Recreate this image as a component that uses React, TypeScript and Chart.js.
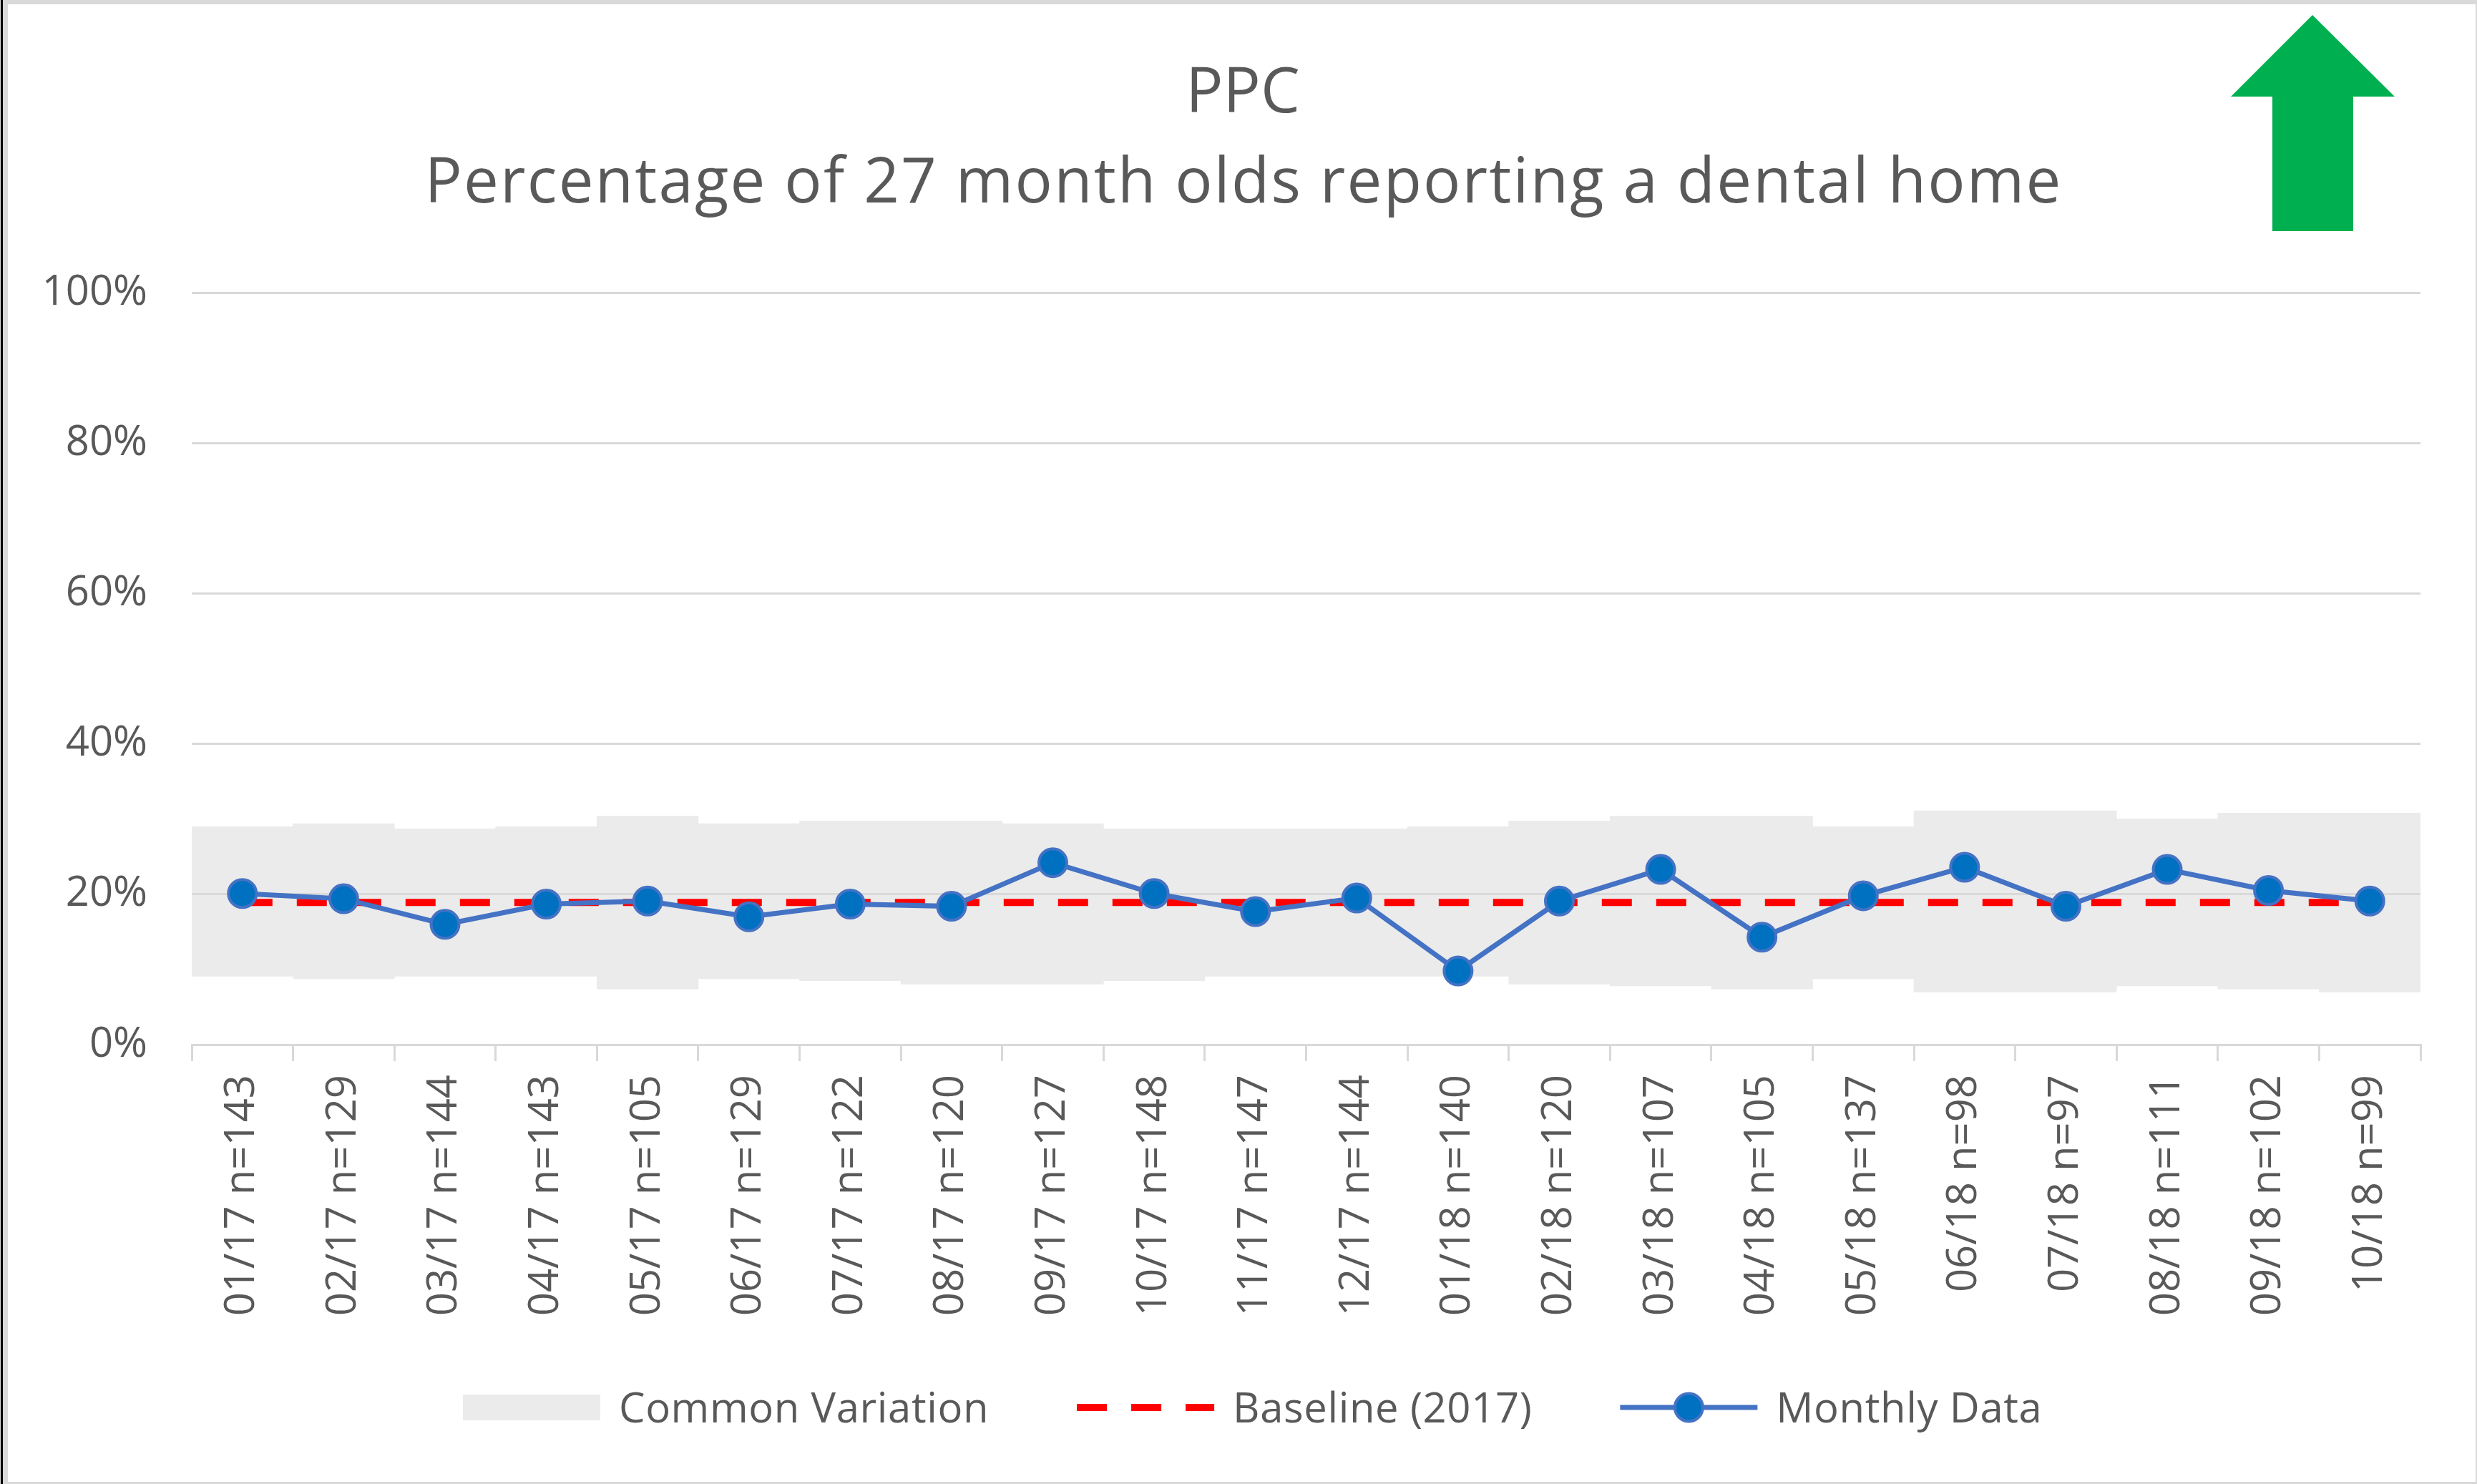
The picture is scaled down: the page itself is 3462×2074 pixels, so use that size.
import React, { useEffect, useRef } from "react";
import { Chart, registerables } from "chart.js";

Chart.register(...registerables);

// ---------------- data ----------------
const categories = [
  "01/17 n=143", "02/17 n=129", "03/17 n=144", "04/17 n=143", "05/17 n=105",
  "06/17 n=129", "07/17 n=122", "08/17 n=120", "09/17 n=127", "10/17 n=148",
  "11/17 n=147", "12/17 n=144", "01/18 n=140", "02/18 n=120", "03/18 n=107",
  "04/18 n=105", "05/18 n=137", "06/18 n=98", "07/18 n=97", "08/18 n=111",
  "09/18 n=102", "10/18 n=99",
];

const monthlyData = [
  20.1, 19.4, 16.0, 18.7, 19.1, 17.0, 18.7, 18.4, 24.2, 20.1, 17.7,
  19.5, 9.8, 19.1, 23.3, 14.3, 19.8, 23.6, 18.4, 23.3, 20.5, 19.1,
];

const baselineData = [
  18.9, 18.9, 18.9, 18.9, 18.9, 18.9, 18.9, 18.9, 18.9, 18.9, 18.9,
  18.9, 18.9, 18.9, 18.9, 18.9, 18.9, 18.9, 18.9, 18.9, 18.9, 18.9,
];

const variationLow = [
  9.1, 8.75, 9.1, 9.1, 7.4, 8.75, 8.5, 8.05, 8.05, 8.5, 9.1,
  9.1, 9.1, 8.05, 7.8, 7.4, 8.75, 7.0, 7.0, 7.8, 7.4, 7.0,
];

const variationHigh = [
  29.0, 29.4, 28.7, 29.0, 30.4, 29.4, 29.75, 29.75, 29.4, 28.7, 28.7,
  28.7, 29.0, 29.75, 30.4, 30.4, 29.0, 31.1, 31.1, 30.0, 30.8, 30.8,
];

const yTickValues = [0, 20, 40, 60, 80, 100];

const titleLines = ["PPC", "Percentage of 27 month olds reporting a dental home"];
const seriesNames = ["Common Variation", "Baseline (2017)", "Monthly Data"];

// ---------------- styling ----------------
const W = 3462;
const H = 2074;
const FONT = '"Open Sans", "Noto Sans", sans-serif';
const TEXT = "#595959";
const GRID = "#D9D9D9";
const BAND = "#EBEBEB";

function alignPx(p: number, w: number) {
  const h = w / 2;
  return Math.round(p - h) + h;
}

const decorPlugin = {
  id: "decor",
  beforeDraw(chart: any) {
    const ctx = chart.ctx;
    ctx.save();
    ctx.fillStyle = "#ffffff";
    ctx.fillRect(0, 0, W, H);
    ctx.restore();
  },
  afterDatasetDraw(chart: any, args: any) {
    if (args.index !== 0) return;
    const ctx = chart.ctx;
    const ys = chart.scales.y;
    const { left, right } = chart.chartArea;
    ctx.save();
    ctx.strokeStyle = GRID;
    ctx.lineWidth = 3;
    ys.ticks.forEach((t: any) => {
      if (t.value <= 0) return;
      const py = alignPx(ys.getPixelForValue(t.value), 3);
      ctx.beginPath();
      ctx.moveTo(left, py);
      ctx.lineTo(right, py);
      ctx.stroke();
    });
    ctx.restore();
  },
  afterDraw(chart: any) {
    const ctx = chart.ctx;
    const ds = chart.data.datasets;
    ctx.save();

    // title
    ctx.fillStyle = TEXT;
    ctx.textAlign = "center";
    ctx.textBaseline = "alphabetic";
    ctx.font = `87px ${FONT}`;
    ctx.fillText(titleLines[0], 1737, 157);
    (ctx as any).letterSpacing = "2.2px";
    ctx.fillText(titleLines[1], 1738, 283);
    (ctx as any).letterSpacing = "0px";

    // green arrow
    ctx.fillStyle = "#00B050";
    ctx.beginPath();
    ctx.moveTo(3232, 21);
    ctx.lineTo(3347, 135);
    ctx.lineTo(3289, 135);
    ctx.lineTo(3289, 323);
    ctx.lineTo(3176, 323);
    ctx.lineTo(3176, 135);
    ctx.lineTo(3118, 135);
    ctx.closePath();
    ctx.fill();

    // legend
    const ly = 1967;
    const sampleW = 192;
    const gap = 26;
    const itemPad = 123;
    let x = 647;
    ctx.font = `58px ${FONT}`;
    (ctx as any).letterSpacing = "0.6px";
    ctx.textAlign = "left";
    ctx.textBaseline = "alphabetic";
    for (let i = 0; i < ds.length; i++) {
      const d = ds[i];
      if (i === 0) {
        ctx.fillStyle = d.backgroundColor;
        ctx.fillRect(x, ly - 18, sampleW, 36);
      } else {
        ctx.save();
        ctx.strokeStyle = d.borderColor;
        ctx.lineWidth = d.borderWidth;
        ctx.setLineDash(d.borderDash || []);
        ctx.beginPath();
        ctx.moveTo(x, ly);
        ctx.lineTo(x + sampleW, ly);
        ctx.stroke();
        ctx.setLineDash([]);
        if (d.pointRadius > 0) {
          ctx.beginPath();
          ctx.arc(x + sampleW / 2, ly, d.pointRadius, 0, Math.PI * 2);
          ctx.fillStyle = d.pointBackgroundColor;
          ctx.fill();
          ctx.lineWidth = d.pointBorderWidth;
          ctx.strokeStyle = d.pointBorderColor;
          ctx.stroke();
        }
        ctx.restore();
      }
      const tx = x + sampleW + gap;
      ctx.fillStyle = TEXT;
      ctx.fillText(d.label, tx, 1988);
      x = tx + ctx.measureText(d.label).width + itemPad;
    }
    (ctx as any).letterSpacing = "0px";

    // frame
    ctx.fillStyle = GRID;
    ctx.fillRect(0, 0, W, 6);
    ctx.fillRect(0, 0, 11, H);
    ctx.fillRect(W - 2, 0, 2, H);
    ctx.fillRect(0, H - 3, W, 3);
    ctx.fillStyle = "#000000";
    ctx.fillRect(1, 0, 3, H);

    ctx.restore();
  },
};

export default function App() {
  const ref = useRef<HTMLCanvasElement | null>(null);

  useEffect(() => {
    document.body.style.margin = "0";
    document.body.style.overflow = "hidden";
    const canvas = ref.current;
    if (!canvas) return;

    const chart = new Chart(canvas, {
      type: "bar",
      data: {
        labels: categories,
        datasets: [
          {
            type: "bar",
            label: seriesNames[0],
            data: variationLow.map((lo, i) => [lo, variationHigh[i]]),
            backgroundColor: BAND,
            borderWidth: 0,
            barPercentage: 1,
            categoryPercentage: 1,
            order: 3,
          } as any,
          {
            type: "line",
            label: seriesNames[1],
            data: baselineData,
            borderColor: "#FF0000",
            borderWidth: 10,
            borderDash: [42, 34],
            borderCapStyle: "butt",
            pointRadius: 0,
            fill: false,
            order: 2,
          } as any,
          {
            type: "line",
            label: seriesNames[2],
            data: monthlyData,
            borderColor: "#4472C4",
            borderWidth: 7,
            pointRadius: 19.5,
            pointBackgroundColor: "#0070C0",
            pointBorderColor: "#4472C4",
            pointBorderWidth: 4,
            fill: false,
            tension: 0,
            order: 1,
          } as any,
        ],
      },
      options: {
        responsive: false,
        animation: false,
        devicePixelRatio: 1,
        layout: { padding: { left: 11, right: 79, top: 409, bottom: 0 } },
        plugins: {
          legend: { display: false },
          title: { display: false },
          tooltip: { enabled: false },
        },
        scales: {
          x: {
            offset: true,
            grid: {
              offset: true,
              drawOnChartArea: false,
              drawTicks: true,
              tickLength: 23,
              color: GRID,
              lineWidth: 3,
            },
            border: { display: true, color: GRID, width: 3 },
            ticks: {
              autoSkip: false,
              minRotation: 90,
              maxRotation: 90,
              padding: 19,
              color: TEXT,
              font: { family: FONT, size: 58 },
            },
            afterFit: (s: any) => {
              s.height = H - 1460;
            },
          },
          y: {
            min: 0,
            max: 100,
            afterBuildTicks: (s: any) => {
              s.ticks = yTickValues.map((v) => ({ value: v }));
            },
            grid: { color: GRID, lineWidth: 3, drawTicks: false },
            border: { display: false },
            ticks: {
              padding: 62,
              color: TEXT,
              font: { family: FONT, size: 58 },
              callback: (v: any) => `${v}%`,
            },
            afterFit: (s: any) => {
              s.width = 257;
            },
          },
        },
      } as any,
      plugins: [decorPlugin as any],
    });

    return () => chart.destroy();
  }, []);

  return (
    <canvas
      ref={ref}
      width={W}
      height={H}
      style={{ display: "block", width: W + "px", height: H + "px" }}
    />
  );
}
